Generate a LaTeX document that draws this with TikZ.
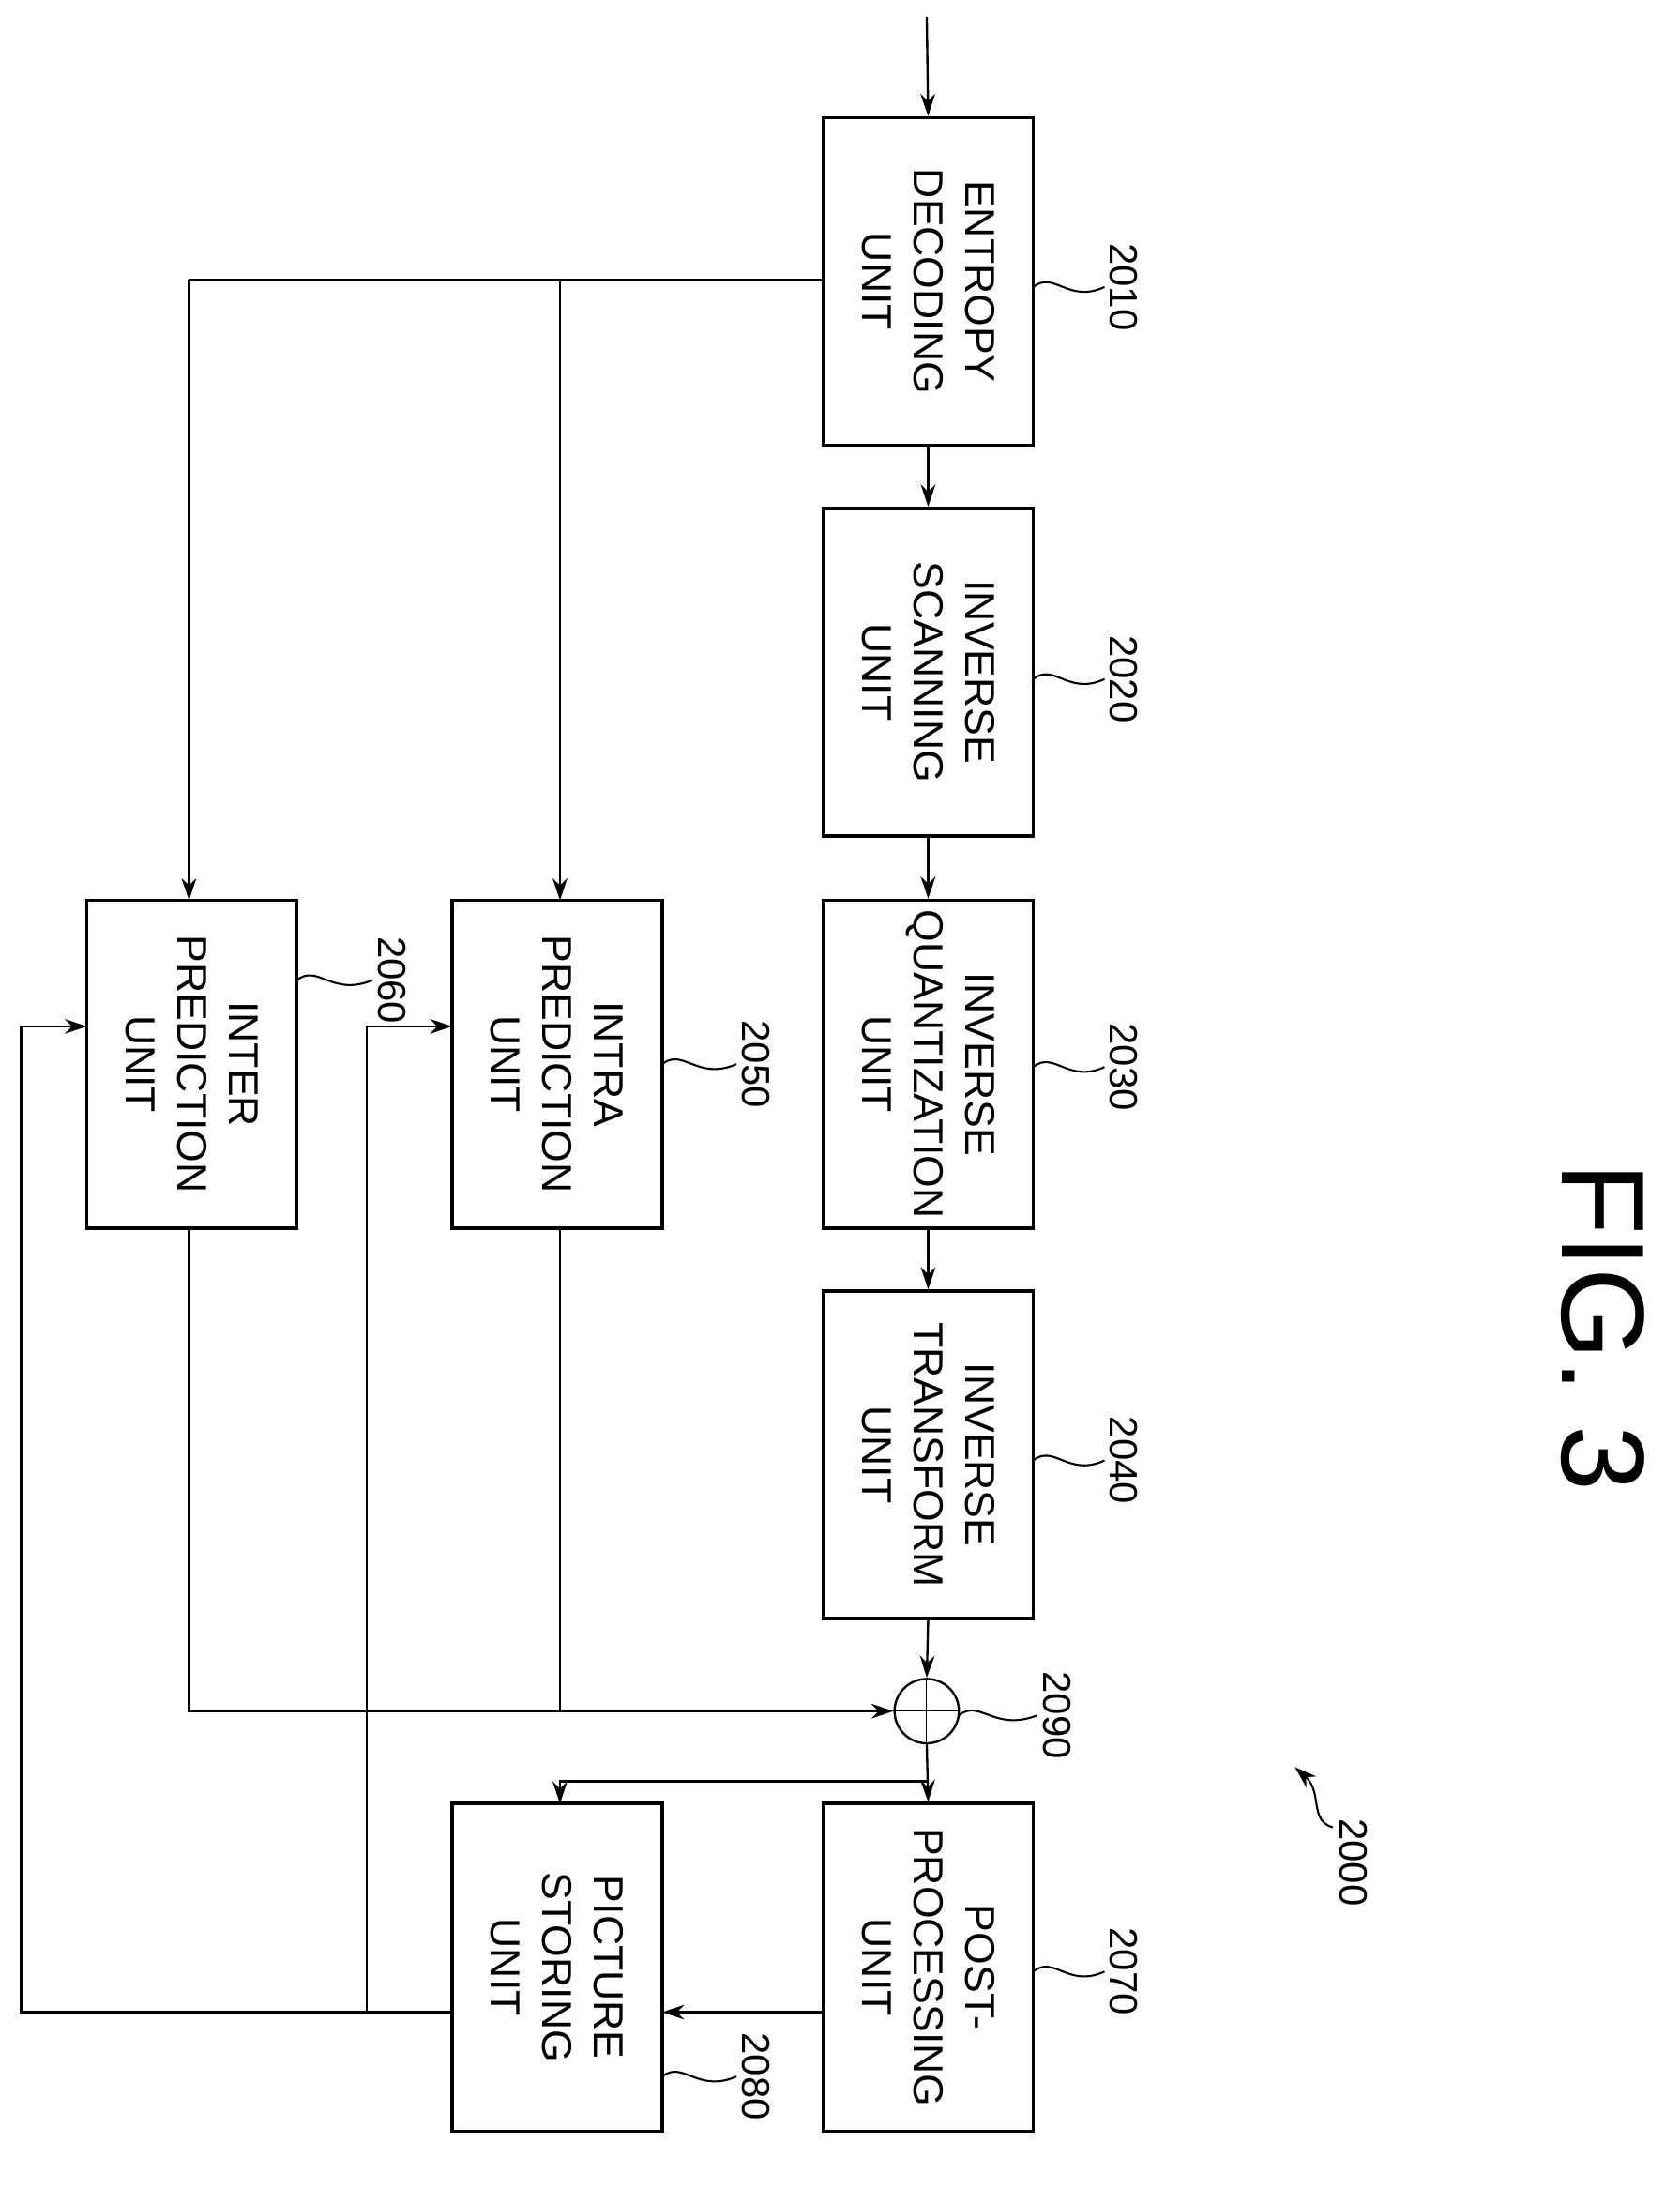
\documentclass[tikz,border=0pt]{standalone}
\usepackage{fontspec}
\setmainfont{Liberation Sans}
\usetikzlibrary{arrows.meta}
\begin{document}
\begin{tikzpicture}[x=0.02cm,y=-0.02cm,
  box/.style={draw,line width=1.4pt,rotate=-90,minimum width=4.68cm,minimum height=3cm,align=center,font=\fontsize{17}{21}\selectfont,inner sep=0pt},
  ln/.style={line width=0.9pt},
  ar/.style={ln,-{Stealth[length=9pt,width=6pt]}},
  lbl/.style={rotate=-90,font=\fontsize{16}{18}\selectfont},
  lead/.style={line width=0.8pt}]
\useasboundingbox (0,0) rectangle (1200,1574);
\node[box] (b2010) at (663,201) {ENTROPY\\DECODING\\UNIT};
\node[box] (b2020) at (663,480) {INVERSE\\SCANNING\\UNIT};
\node[box] (b2030) at (663,760) {INVERSE\\QUANTIZATION\\UNIT};
\node[box] (b2040) at (663,1039) {INVERSE\\TRANSFORM\\UNIT};
\node[box] (b2070) at (663,1405) {POST-\\PROCESSING\\UNIT};
\node[box] (b2080) at (398,1405) {PICTURE\\STORING\\UNIT};
\node[box] (b2050) at (398,760) {INTRA\\PREDICTION\\UNIT};
\node[box] (b2060) at (137,760) {INTER\\PREDICTION\\UNIT};
\node[draw,circle,line width=0.9pt,minimum size=0.92cm,inner sep=0pt] (add) at (662,1222) {};
\draw (add.north)--(add.south) (add.west)--(add.east);
\coordinate (in) at (662,12);
\draw[ar] (in)--(b2010.west);
\draw[ar] (b2010.east)--(b2020.west);
\draw[ar] (b2020.east)--(b2030.west);
\draw[ar] (b2030.east)--(b2040.west);
\draw[ar] (b2040.east)--(add.north);
\draw[ar] (add.south)--(b2070.west);
\coordinate (j1) at (400,200);
\draw[ln] (b2010.south|-j1)--(135,200);
\draw[ar] (135,200)--(135,643);
\draw[ar] (400,200)--(400,643);
\draw[ln] (400,877)--(400,1222);
\draw[ar] (135,877)--(135,1222)--(add.west);
\draw[ar] (662,1272)--(400,1272)--(400,1288);
\draw[ar] (588,1437)--(473,1437);
\draw[ar] (323,1437)--(15,1437)--(15,733)--(62,733);
\draw[ar] (262,1437)--(262,733)--(323,733);
% leaders and labels
\foreach \n/\x/\y/\lx in {2010/738/205/803,2020/738/485/803,2030/738/762/803,2040/738/1043/803,2070/738/1408/803,2050/473/760/540,2080/473/1483/540,2060/212/700/280,2090/685/1225/755}{
  \node[lbl] (l\n) at (\lx,\y) {\n};
  \draw[lead] (\x,\y) .. controls (\x+15,\y-12) and (\x+25,\y+12) .. (\lx-14,\y);
}
\node[lbl] (l2000) at (967,1330) {2000};
\coordinate (a2000) at (925,1262);
\draw[lead,-{Stealth[length=9pt,width=6pt]}] (952,1305) .. controls (935,1300) and (945,1280) .. (a2000);
\node[rotate=-90,font=\fontsize{48}{50}\selectfont] (fig) at (1145,948) {FIG. 3};
\end{tikzpicture}
\end{document}
